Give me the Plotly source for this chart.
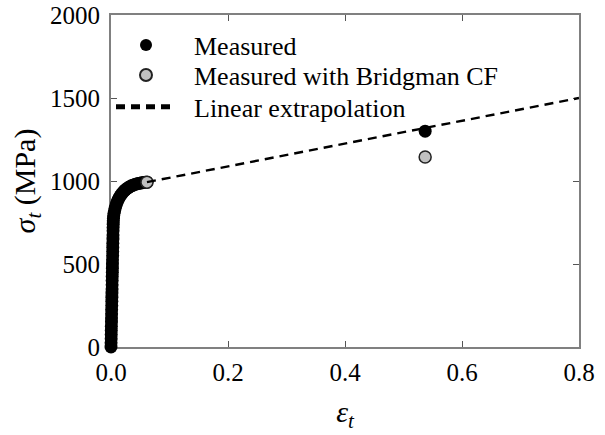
import plotly.graph_objects as go

# Measured true stress-strain data (strain, MPa)
meas_strain = [0.0000, 0.0001, 0.0003, 0.0004, 0.0005, 0.0006, 0.0008, 0.0009,
               0.0010, 0.0011, 0.0013, 0.0014, 0.0015, 0.0016, 0.0018, 0.0019,
               0.0020, 0.0021, 0.0023, 0.0024, 0.0025, 0.0026, 0.0028, 0.0029,
               0.0030, 0.0031, 0.0033, 0.0034, 0.0035, 0.0036, 0.0038, 0.0039,
               0.0042, 0.0046, 0.0052, 0.0060, 0.0070, 0.0082, 0.0095, 0.0110,
               0.0125, 0.0142, 0.0160, 0.0180, 0.0200, 0.0222, 0.0245, 0.0270,
               0.0295, 0.0320, 0.0348, 0.0375, 0.0405, 0.0435, 0.0465, 0.0495,
               0.0525, 0.0555, 0.0585, 0.0615, 0.537]
meas_stress = [0, 25, 50, 75, 100, 125, 150, 175,
               200, 225, 250, 275, 300, 325, 350, 375,
               400, 425, 450, 475, 500, 525, 550, 575,
               600, 625, 650, 675, 700, 720, 740, 760,
               775, 790, 805, 820, 835, 850, 864, 878,
               890, 901, 911, 921, 930, 939, 947, 954,
               960, 966, 971, 975, 979, 982, 985, 987,
               989, 991, 992, 993, 1300]

# Bridgman-corrected points
bridg_strain = [0.0615, 0.537]
bridg_stress = [993, 1145]

# Linear extrapolation
ext_strain = [0.0615, 0.8]
ext_stress = [993, 1500]

font_family = "Liberation Serif, Times New Roman, serif"

fig = go.Figure()
fig.add_trace(go.Scatter(
    x=meas_strain, y=meas_stress, mode="markers", name="&nbsp;&nbsp;Measured",
    marker=dict(size=13, color="black", line=dict(width=0)),
    cliponaxis=False, legend="legend"))
fig.add_trace(go.Scatter(
    x=bridg_strain, y=bridg_stress, mode="markers", name="&nbsp;&nbsp;Measured with Bridgman CF",
    marker=dict(size=12, color="#c0c0c0", line=dict(width=1.5, color="#222222")),
    cliponaxis=False, legend="legend2"))
fig.add_trace(go.Scatter(
    x=ext_strain, y=ext_stress, mode="lines", name="&nbsp;&nbsp;Linear extrapolation",
    line=dict(color="black", width=2.4, dash="9px,6px"), legend="legend3"))

axis_common = dict(
    showline=True, linecolor="#808080", linewidth=2, mirror="ticks",
    ticks="inside", ticklen=6, tickcolor="#555555", tickwidth=1.2,
    showgrid=False, zeroline=False, layer="below traces", automargin=False,
    tickfont=dict(family=font_family, size=25, color="black"))

fig.update_xaxes(range=[0, 0.8], tickvals=[0, 0.2, 0.4, 0.6, 0.8],
                 ticktext=["0.0", "0.2", "0.4", "0.6", "0.8"],
                 ticklabelstandoff=2,
                 title=dict(text="<i>ε<sub>t</sub></i>", font=dict(family=font_family, size=30, color="black"),
                            standoff=16),
                 **axis_common)
fig.update_yaxes(range=[0, 2000], tickvals=[0, 500, 1000, 1500, 2000],
                 ticklabelstandoff=4,
                 title=dict(text="<i>σ<sub>t</sub></i> (MPa)", font=dict(family=font_family, size=30, color="black"),
                            standoff=6),
                 **axis_common)

leg_common = dict(x=0.0, xanchor="left", yanchor="middle",
                  bgcolor="rgba(0,0,0,0)", itemwidth=60,
                  font=dict(family=font_family, size=26, color="black"),
                  itemsizing="constant")

fig.update_layout(
    template="none",
    width=605, height=435,
    margin=dict(l=111, r=26, t=15, b=88, autoexpand=False),
    paper_bgcolor="white", plot_bgcolor="white",
    showlegend=True,
    legend=dict(y=0.909, **leg_common),
    legend2=dict(y=0.819, **leg_common),
    legend3=dict(y=0.723, **leg_common),
    font=dict(family=font_family, color="black"))

fig.write_html("out.html")
